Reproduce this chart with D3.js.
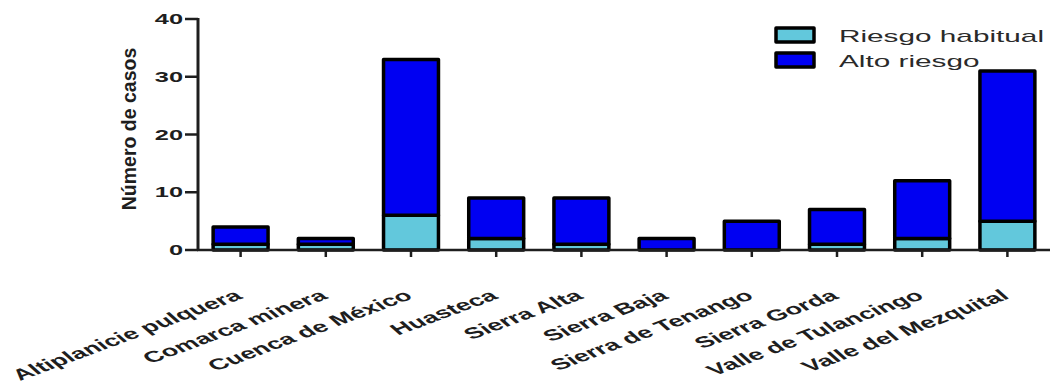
<!DOCTYPE html>
<html>
<head>
<meta charset="utf-8">
<script src="https://cdn.jsdelivr.net/npm/d3@7/dist/d3.min.js"></script>
<style>
  html, body { margin: 0; padding: 0; background: #fff; }
  svg { display: block; }
  text { font-family: "Liberation Sans", Arial, sans-serif; }
</style>
</head>
<body>
<svg id="chart" width="1053" height="389"></svg>
<script>
// Casos por región
const regions = [
  "Altiplanicie pulquera", "Comarca minera", "Cuenca de México", "Huasteca",
  "Sierra Alta", "Sierra Baja", "Sierra de Tenango", "Sierra Gorda",
  "Valle de Tulancingo", "Valle del Mezquital"
];
const riesgoHabitual = [1, 1, 6, 2, 1, 0, 0, 1, 2, 5];
const altoRiesgo     = [3, 1, 27, 7, 8, 2, 5, 6, 10, 26];
const seriesNames = ["Riesgo habitual", "Alto riesgo"];
const seriesColors = ["#62c8dc", "#0000f2"];
const yTicks = [0, 10, 20, 30, 40];
const yTitle = "Número de casos";

const svg = d3.select("#chart");
const sx = 1.75;          // horizontal widening of the lettering
const ink = "#1e1e1e";

const x = d3.scaleBand()
  .domain(regions)
  .range([198, 1050])
  .paddingInner(0.32)
  .paddingOuter(0.16);

const y = d3.scaleLinear().domain([0, 40]).range([250, 19]);

// stacked bars
const rows = regions.map((r, i) => ({ region: r, habitual: riesgoHabitual[i], alto: altoRiesgo[i] }));
const stack = d3.stack().keys(["habitual", "alto"])(rows);

const bars = svg.append("g");
stack.forEach((layer, k) => {
  bars.selectAll(null)
    .data(layer.filter(d => d[1] > d[0]))
    .join("rect")
    .attr("x", d => x(d.data.region) + 1.5)
    .attr("width", x.bandwidth() - 3)
    .attr("y", d => y(d[1]))
    .attr("height", d => y(d[0]) - y(d[1]))
    .attr("fill", seriesColors[k])
    .attr("stroke", "#000")
    .attr("stroke-width", 3.5)
    .attr("stroke-linejoin", "round");
});

// x axis line and ticks
svg.append("line")
  .attr("x1", 197).attr("x2", 1050)
  .attr("y1", y(0)).attr("y2", y(0))
  .attr("stroke", ink).attr("stroke-width", 2.5);

svg.append("g").selectAll("line")
  .data(regions)
  .join("line")
  .attr("x1", d => x(d) + x.bandwidth() / 2)
  .attr("x2", d => x(d) + x.bandwidth() / 2)
  .attr("y1", y(0)).attr("y2", y(0) + 7)
  .attr("stroke", ink).attr("stroke-width", 2.5);

// x labels, slanted
svg.append("g").selectAll("text")
  .data(regions)
  .join("text")
  .attr("transform", d => `translate(${x(d) + x.bandwidth() / 2 + 3},298) scale(${sx},1) rotate(-33)`)
  .attr("text-anchor", "end")
  .attr("font-size", 15.5)
  .attr("font-weight", "bold")
  .attr("fill", ink)
  .text(d => d);

// y axis
svg.append("line")
  .attr("x1", 198).attr("x2", 198)
  .attr("y1", y(40) - 1).attr("y2", y(0) + 1)
  .attr("stroke", ink).attr("stroke-width", 3);

svg.append("g").selectAll("line")
  .data(yTicks)
  .join("line")
  .attr("x1", 185).attr("x2", 198)
  .attr("y1", d => y(d)).attr("y2", d => y(d))
  .attr("stroke", ink).attr("stroke-width", 2.5);

svg.append("g").selectAll("text")
  .data(yTicks)
  .join("text")
  .attr("transform", d => `translate(183,${y(d) + 5}) scale(${sx},1)`)
  .attr("text-anchor", "end")
  .attr("font-size", 14.5)
  .attr("font-weight", "bold")
  .attr("fill", ink)
  .text(d => d);

svg.append("text")
  .attr("transform", "translate(136,129) rotate(-90)")
  .attr("text-anchor", "middle")
  .attr("font-size", 19.5)
  .attr("font-weight", "bold")
  .attr("fill", ink)
  .text(yTitle);

// legend
const legend = svg.append("g");
seriesNames.forEach((name, i) => {
  const ly = 28 + i * 25;
  legend.append("rect")
    .attr("x", 776).attr("y", ly)
    .attr("width", 38).attr("height", 14)
    .attr("fill", seriesColors[i])
    .attr("stroke", "#000").attr("stroke-width", 3.5)
    .attr("stroke-linejoin", "round");
  legend.append("text")
    .attr("transform", `translate(839,${ly + 14}) scale(${sx},1)`)
    .attr("font-size", 17)
    .attr("fill", "#2a2a2a")
    .text(name);
});
</script>
</body>
</html>
